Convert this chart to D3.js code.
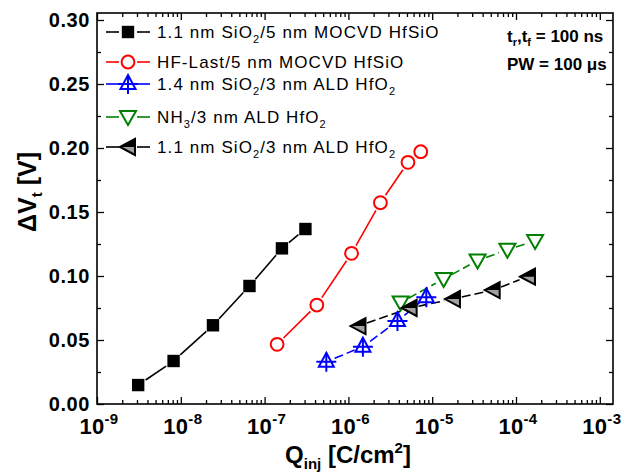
<!DOCTYPE html>
<html><head><meta charset="utf-8">
<script src="https://cdn.jsdelivr.net/npm/d3@7"></script>
<style>body{margin:0;background:#fff}svg{display:block}text{font-family:"Liberation Sans",Arial,sans-serif}</style>
</head><body><svg id="c" width="628" height="473"></svg>
<script>
// ---- data ----
const seriesNames = ["1.1 nm SiO2/5 nm MOCVD HfSiO","HF-Last/5 nm MOCVD HfSiO","1.4 nm SiO2/3 nm ALD HfO2","NH3/3 nm ALD HfO2","1.1 nm SiO2/3 nm ALD HfO2"];
const squaresX = [3.1e-9, 8.2e-9, 2.42e-8, 6.6e-8, 1.61e-7, 3.07e-7];
const squaresY = [0.0148, 0.0336, 0.0615, 0.0922, 0.1216, 0.1367];
const circlesX = [1.41e-7, 4.2e-7, 1.09e-6, 2.41e-6, 5.14e-6, 7.3e-6];
const circlesY = [0.0466, 0.0773, 0.1177, 0.1573, 0.1888, 0.1971];
const upX = [5.45e-7, 1.49e-6, 3.85e-6, 8.5e-6];
const upY = [0.033, 0.0448, 0.0648, 0.0834];
const downX = [4.2e-6, 1.37e-5, 3.48e-5, 7.9e-5, 1.69e-4];
const downY = [0.0793, 0.0977, 0.1121, 0.1205, 0.1273];
const leftX = [1.32e-6, 5.38e-6, 1.77e-5, 5.27e-5, 1.39e-4];
const leftY = [0.0609, 0.075, 0.082, 0.089, 0.0995];
const xTickExps = [-9,-8,-7,-6,-5,-4,-3];
const yTicks = [0.00,0.05,0.10,0.15,0.20,0.25,0.30];

// ---- layout ----
const svg = d3.select("#c");
const L=97, R=613, T=13, B=404;
const x = d3.scaleLog().domain([1e-9, Math.pow(10,-9+(R-L)/83.8)]).range([L,R]);
const y = d3.scaleLinear().domain([0, (B-T)/1280]).range([B,T]);

// ticks
const majorX = xTickExps.map(e=>Math.pow(10,e));
const minorX = [];
for(let e=-9;e<-2;e++) for(let k=2;k<=9;k++){const v=k*Math.pow(10,e); if(v<=x.domain()[1]) minorX.push(v);}
const minorY = d3.range(0.025,0.30,0.05);
function ax(g){g.selectAll(".domain").remove(); g.selectAll("line").attr("stroke","#000").attr("stroke-width",1.3);}
svg.append("g").attr("transform",`translate(0,${B})`).call(d3.axisBottom(x).tickValues(majorX).tickSize(-7).tickFormat("")).call(ax);
svg.append("g").attr("transform",`translate(0,${B})`).call(d3.axisBottom(x).tickValues(minorX).tickSize(-4).tickFormat("")).call(ax);
svg.append("g").attr("transform",`translate(0,${T})`).call(d3.axisTop(x).tickValues(majorX).tickSize(-7).tickFormat("")).call(ax);
svg.append("g").attr("transform",`translate(0,${T})`).call(d3.axisTop(x).tickValues(minorX).tickSize(-4).tickFormat("")).call(ax);
const yl = svg.append("g").attr("transform",`translate(${L},0)`).call(d3.axisLeft(y).tickValues(yTicks).tickSize(-7).tickPadding(7).tickFormat(d3.format(".2f"))).call(ax);
yl.selectAll("text").attr("font-size",20).attr("font-weight","bold").attr("fill","#000").attr("letter-spacing","0.6").attr("font-family","Liberation Sans, Arial, sans-serif");
svg.append("g").attr("transform",`translate(${L},0)`).call(d3.axisLeft(y).tickValues(minorY).tickSize(-4).tickFormat("")).call(ax);
svg.append("g").attr("transform",`translate(${R},0)`).call(d3.axisRight(y).tickValues(yTicks).tickSize(-7).tickFormat("")).call(ax);
svg.append("g").attr("transform",`translate(${R},0)`).call(d3.axisRight(y).tickValues(minorY).tickSize(-4).tickFormat("")).call(ax);
svg.append("rect").attr("x",L).attr("y",T).attr("width",R-L).attr("height",B-T).attr("fill","none").attr("stroke","#000").attr("stroke-width",1.6);

// x tick labels
xTickExps.forEach(e=>{
  const t=svg.append("text").attr("x",x(Math.pow(10,e))+2).attr("y",434).attr("text-anchor","middle").attr("font-weight","bold").attr("font-size",22).attr("letter-spacing","0.3");
  t.append("tspan").text("10");
  t.append("tspan").attr("dy",-10).attr("font-size",15).text(String(e));
});

// axis titles
const xt=svg.append("text").attr("x",348).attr("y",463).attr("text-anchor","middle").attr("font-weight","bold").attr("font-size",24);
xt.append("tspan").text("Q");
xt.append("tspan").attr("dy",6).attr("font-size",15).text("inj");
xt.append("tspan").attr("dy",-6).text(" [C/cm");
xt.append("tspan").attr("dy",-10).attr("font-size",15).text("2");
xt.append("tspan").attr("dy",10).text("]");
const yt=svg.append("text").attr("transform","translate(36,192) rotate(-90)").attr("text-anchor","middle").attr("font-weight","bold").attr("font-size",25);
yt.append("tspan").text("\u0394V");
yt.append("tspan").attr("dy",6).attr("font-size",15).text("t");
yt.append("tspan").attr("dy",-6).text(" [V]");

// annotation
const a1=svg.append("text").attr("x",507).attr("y",42).attr("font-weight","bold").attr("font-size",17);
a1.append("tspan").text("t");a1.append("tspan").attr("dy",4).attr("font-size",11).text("r");
a1.append("tspan").attr("dy",-4).text(",t");a1.append("tspan").attr("dy",4).attr("font-size",11).text("f");
a1.append("tspan").attr("dy",-4).text(" = 100 ns");
svg.append("text").attr("x",507).attr("y",70).attr("font-weight","bold").attr("font-size",17).text("PW = 100 \u03bcs");

// marker shapes
const shapes = {
  square:(g,c)=>g.append("rect").attr("x",-6.2).attr("y",-6.2).attr("width",12.4).attr("height",12.4).attr("fill",c),
  circle:(g,c)=>g.append("circle").attr("r",6.4).attr("fill","#fff").attr("stroke",c).attr("stroke-width",2),
  up:(g,c)=>{g.append("path").attr("d","M0,-9L7.5,5L-7.5,5Z").attr("fill","#fff").attr("stroke",c).attr("stroke-width",2);
             g.append("path").attr("d","M-10,0H10M0,-9V10").attr("stroke",c).attr("stroke-width",2);},
  down:(g,c)=>g.append("path").attr("d","M-8,-6L8,-6L0,8Z").attr("fill","#fff").attr("stroke",c).attr("stroke-width",2),
  left:(g,c)=>{g.append("path").attr("d","M-8,0L7,-8L7,8Z").attr("fill","#a0a0a0").attr("stroke",c).attr("stroke-width",2);
               g.append("path").attr("d","M-8,0L7,-8L7,0Z").attr("fill",c);}
};

const series = [
  {xs:squaresX, ys:squaresY, color:"#000", shape:"square", dash:null},
  {xs:circlesX, ys:circlesY, color:"#ff0000", shape:"circle", dash:null},
  {xs:upX, ys:upY, color:"#0000ff", shape:"up", dash:"9,4"},
  {xs:downX, ys:downY, color:"#008000", shape:"down", dash:"9,4"},
  {xs:leftX, ys:leftY, color:"#000", shape:"left", dash:"9,4"}
];
const gap=9;
function seg(g,p,q,s){
  const dx=q[0]-p[0], dy=q[1]-p[1], d=Math.hypot(dx,dy);
  if(d<=2*gap) return;
  const ux=dx/d, uy=dy/d;
  g.append("line").attr("x1",p[0]+ux*gap).attr("y1",p[1]+uy*gap).attr("x2",q[0]-ux*gap).attr("y2",q[1]-uy*gap)
   .attr("stroke",s.color).attr("stroke-width",1.6).attr("stroke-dasharray",s.dash);
}
series.forEach(s=>{
  const g=svg.append("g");
  const pts=s.xs.map((v,i)=>[x(v),y(s.ys[i])]);
  for(let i=1;i<pts.length;i++) seg(g,pts[i-1],pts[i],s);
});
series.forEach(s=>{
  s.xs.forEach((v,i)=>{ shapes[s.shape](svg.append("g").attr("transform",`translate(${x(v)},${y(s.ys[i])})`), s.color); });
});

// legend
const legY=[32,62,84,117,147];
const legText=[
  [["1.1 nm SiO",0],["2",1],["/5 nm MOCVD HfSiO",0]],
  [["HF-Last/5 nm MOCVD HfSiO",0]],
  [["1.4 nm SiO",0],["2",1],["/3 nm ALD HfO",0],["2",1]],
  [["NH",0],["3",1],["/3 nm ALD HfO",0],["2",1]],
  [["1.1 nm SiO",0],["2",1],["/3 nm ALD HfO",0],["2",1]]
];
series.forEach((s,i)=>{
  const g=svg.append("g");
  const yy=legY[i];
  g.append("line").attr("x1",106).attr("x2",119).attr("y1",yy).attr("y2",yy).attr("stroke",s.color).attr("stroke-width",1.6);
  g.append("line").attr("x1",137).attr("x2",150).attr("y1",yy).attr("y2",yy).attr("stroke",s.color).attr("stroke-width",1.6);
  shapes[s.shape](g.append("g").attr("transform",`translate(128,${yy})`), s.color);
  const t=g.append("text").attr("x",157).attr("y",yy+6).attr("font-size",17).attr("letter-spacing","1.1");
  let sub=false;
  legText[i].forEach(([str,isSub])=>{
    const ts=t.append("tspan").text(str);
    if(isSub && !sub){ts.attr("dy",5).attr("font-size",11); sub=true;}
    else if(!isSub && sub){ts.attr("dy",-5); sub=false;}
    else if(isSub){ts.attr("font-size",11);}
  });
});
</script></body></html>
